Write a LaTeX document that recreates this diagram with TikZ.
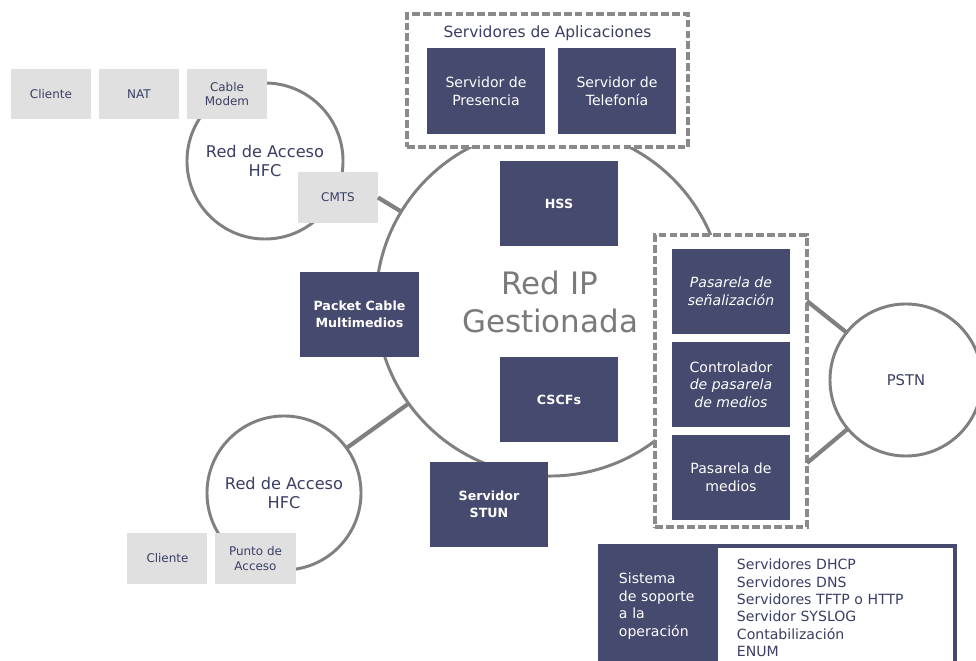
\documentclass[tikz,border=0pt]{standalone}
\usepackage{fontspec}
\setmainfont{DejaVu Sans}
\usetikzlibrary{positioning,calc}

\definecolor{boxblue}{RGB}{70,74,110}
\definecolor{boxgray}{RGB}{224,224,224}
\definecolor{linegray}{RGB}{128,128,128}
\definecolor{dashgray}{RGB}{138,138,138}
\definecolor{inkblue}{RGB}{58,62,100}
\definecolor{titlegray}{RGB}{122,122,122}

\begin{document}
\begin{tikzpicture}[x=0.025cm,y=-0.025cm,
    dark box/.style={fill=boxblue,text=white,minimum width=2.95cm,minimum height=2.125cm,
                     inner sep=0pt,outer sep=0pt,align=center,font=\fontsize{10}{12.5}\selectfont},
    strong/.style={font=\fontsize{9}{12}\selectfont\bfseries},
    light box/.style={fill=boxgray,text=inkblue,minimum width=2cm,minimum height=1.25cm,
                      inner sep=0pt,outer sep=0pt,align=center,font=\fontsize{8.5}{10.5}\selectfont},
    net/.style={circle,draw=linegray,line width=2.1pt,fill=white,inner sep=0pt,outer sep=0pt,
                text=inkblue,align=center,font=\fontsize{11.5}{14}\selectfont},
    group/.style={draw=dashgray,line width=2.6pt,dash pattern=on 5.5pt off 2.2pt,fill=white,
                  inner sep=0pt,outer sep=0pt},
    link/.style={draw=linegray,line width=3pt}]

    \useasboundingbox (0,0) rectangle (976,661);

    % Define networks
    \node[net,minimum size=8.7cm,text=titlegray,font=\fontsize{22}{27}\selectfont] (redip) at (550,302) {Red IP\\Gestionada};
    \node[net,minimum size=3.9cm] (hfcup) at (265,161) {Red de Acceso\\HFC};
    \node[net,minimum size=3.85cm] (hfclow) at (284,493) {Red de Acceso\\HFC};
    \node[net,minimum size=3.8cm,font=\fontsize{10.5}{12}\selectfont] (pstn) at (906,380) {PSTN};

    % Define groups
    \node[group,minimum width=7.025cm,minimum height=3.325cm] (apps) at (547.5,80.5) {};
    \node[text=inkblue,font=\fontsize{11}{13}\selectfont] (appstitle) at (547.5,33) {Servidores de Aplicaciones};
    \node[group,minimum width=3.8cm,minimum height=7.3cm] (gw) at (731,381) {};

    % Define servers
    \node[dark box] (presencia) at (486,91) {Servidor de\\Presencia};
    \node[dark box,right=0.325cm of presencia] (telefonia) {Servidor de\\Telefonía};
    \node[dark box,strong] (hss) at (559,203.5) {HSS};
    \node[dark box,strong] (cscf) at (559,399.5) {CSCFs};
    \node[dark box,strong] (packet) at (359.5,314.5) {Packet Cable\\Multimedios};
    \node[dark box,strong] (stun) at (489,504.5) {Servidor\\STUN};
    \node[dark box] (senal) at (731,291.5) {\textit{Pasarela de}\\\textit{señalización}};
    \node[dark box,below=0.2cm of senal] (mgc) {Controlador\\\textit{de pasarela}\\\textit{de medios}};
    \node[dark box,below=0.2cm of mgc] (mgw) {Pasarela de\\medios};

    % Define access devices
    \node[light box] (modem) at (227,94) {Cable\\Modem};
    \node[light box,left=0.2cm of modem] (nat) {NAT};
    \node[light box,left=0.2cm of nat] (cliente) {Cliente};
    \node[light box] (cmts) at (338,197.5) {CMTS};
    \node[light box] (punto) at (255.5,558.5) {Punto de\\Acceso};
    \node[light box,left=0.2cm of punto] (clientebajo) {Cliente};

    % Define support system
    \node[fill=boxblue,text=white,minimum height=3.1cm,text width=7.925cm,inner xsep=0.525cm,
          inner ysep=0pt,outer sep=0pt,align=left,font=\fontsize{10}{12.5}\selectfont] (soporte) at (777.5,606)
          {Sistema\\de soporte\\a la\\operación};
    \node[fill=white,text=inkblue,minimum height=3cm,text width=4.925cm,inner xsep=0.475cm,
          inner ysep=0pt,outer sep=0pt,align=left,font=\fontsize{10}{12.4}\selectfont] (servicios) at (835.5,608)
          {Servidores DHCP\\Servidores DNS\\Servidores TFTP o HTTP\\Servidor SYSLOG\\Contabilización\\ENUM};

    % Draw links
    \path (cmts.east) edge[link] (redip)
          (hfclow) edge[link] (redip)
          ($(gw.east)+(0,-80)$) edge[link] (pstn)
          ($(gw.east)+(0,82)$) edge[link] (pstn);

\end{tikzpicture}
\end{document}
